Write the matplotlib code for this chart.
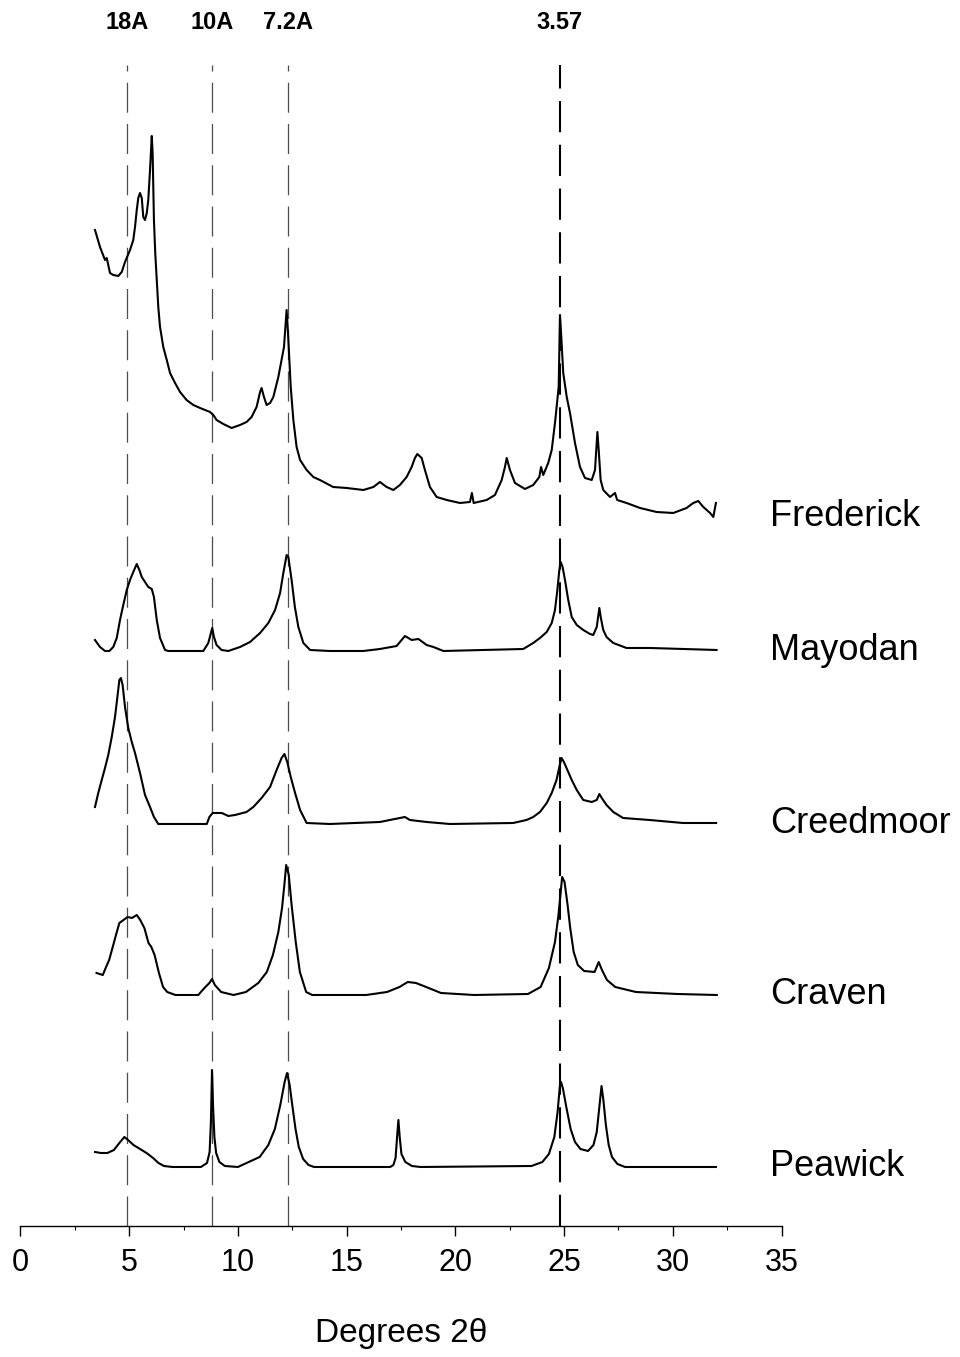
import matplotlib
matplotlib.use("Agg")
import matplotlib.pyplot as plt
import matplotlib.transforms as mtransforms
from matplotlib.ticker import MultipleLocator

plt.rcParams['font.family'] = ['Liberation Sans', 'DejaVu Sans']

# XRD traces, 2-theta (deg) and intensity above each trace's baseline (arb. units)
frederick_2t = [3.43, 3.66, 3.89, 3.97, 4.04, 4.12, 4.27, 4.50, 4.66, 4.81, 5.04, 5.19, 5.27,
                5.35, 5.42, 5.50, 5.58, 5.65, 5.73, 5.81, 5.88, 5.96, 6.04, 6.08, 6.14, 6.20,
                6.27, 6.34, 6.42, 6.57, 6.73, 6.88, 7.11, 7.34, 7.64, 7.95, 8.26, 8.72, 8.87,
                9.02, 9.33, 9.71, 10.10, 10.40, 10.63, 10.86, 11.02, 11.09, 11.20, 11.32,
                11.48, 11.63, 11.86, 12.01, 12.12, 12.24, 12.29, 12.35, 12.43, 12.55, 12.70,
                12.86, 13.16, 13.47, 13.77, 14.38, 15.00, 15.77, 16.23,
                16.53, 16.84, 17.15, 17.45, 17.76, 17.99, 18.14, 18.25, 18.45, 18.60, 18.83,
                19.14, 19.60, 20.21, 20.67, 20.76, 20.84, 21.44, 21.82, 22.13, 22.28, 22.36,
                22.51, 22.74, 23.20, 23.58, 23.86, 23.94, 24.04, 24.27, 24.43, 24.58, 24.69,
                24.75, 24.81, 24.87, 24.96, 25.12, 25.27, 25.50, 25.73, 25.96, 26.27, 26.42,
                26.53, 26.59, 26.68, 26.80, 27.11, 27.34, 27.44, 27.87, 28.49, 29.25, 30.02,
                30.63, 30.94, 31.17, 31.40, 31.71, 31.86, 31.98]
frederick_i = [287, 270, 257, 259, 252, 244, 242, 241, 245, 255, 267, 277, 290,
               307, 319, 324, 319, 300, 297, 304, 317, 347, 381, 364, 297, 264,
               237, 210, 190, 170, 157, 144, 134, 125, 117, 112, 109, 105, 102,
               97, 93, 89, 92, 95, 100, 110, 125, 129, 120, 112,
               114, 120, 140, 157, 170, 207, 190, 164, 130, 97, 70,
               57, 47, 40, 37, 30, 29, 27, 30,
               35, 30, 27, 32, 40, 50, 59, 63, 59, 47, 30,
               20, 17, 14, 15, 24, 14, 17, 22, 37, 50, 59,
               47, 34, 28, 32, 40, 50, 42, 54, 67, 94, 117,
               130, 202, 180, 144, 120, 104, 74, 50, 39, 37, 47,
               85, 67, 37, 27, 20, 24, 17, 14, 9, 5, 4,
               9, 14, 16, 10, 4, 0, 14]

mayodan_2t = [3.43, 3.66, 3.89, 4.09, 4.27, 4.43, 4.58, 4.73, 4.89, 5.04, 5.19, 5.35, 5.47,
              5.58, 5.73, 5.88, 6.04, 6.14, 6.27, 6.42, 6.65, 6.80, 8.41, 8.64, 8.76, 8.82,
              8.90, 9.02, 9.25, 9.56, 10.10, 10.56, 11.02, 11.40, 11.71, 11.94, 12.09, 12.24,
              12.32, 12.47, 12.62, 12.78, 13.01, 13.32, 14.23, 15.77, 16.53, 17.30, 17.68,
              17.99, 18.30, 18.68, 18.99, 19.45, 21.28, 23.12, 23.58, 23.89, 24.20, 24.43,
              24.58, 24.69, 24.78, 24.84, 24.93, 25.04, 25.19, 25.35, 25.58, 25.88, 26.19,
              26.34, 26.50, 26.62, 26.69, 26.80, 26.95, 27.26, 27.87, 28.95, 32.01]
mayodan_i = [11, 4, 0, 0, 4, 13, 31, 46, 61, 71, 79, 87, 81,
             74, 69, 64, 62, 54, 31, 13, 1, 0, 0, 8, 18, 23,
             14, 6, 1, 0, 4, 9, 18, 28, 41, 58, 78, 96,
             94, 71, 44, 24, 8, 1, 0, 0, 2, 5, 15,
             11, 12, 6, 4, 0, 1, 2, 8, 13, 19, 28,
             41, 61, 81, 89, 84, 71, 51, 34, 26, 21, 17,
             16, 24, 43, 33, 21, 14, 8, 3, 3, 1]

creedmoor_2t = [3.43, 3.58, 3.74, 3.89, 4.04, 4.20, 4.35, 4.46, 4.55, 4.62, 4.70, 4.81, 4.96,
                5.12, 5.27, 5.50, 5.73, 5.96, 6.14, 6.34, 7.34, 8.57, 8.69, 8.84, 9.26, 9.56,
                9.87, 10.40, 10.71, 11.09, 11.48, 11.78, 12.01, 12.14, 12.27, 12.43, 12.63,
                12.86, 13.16, 14.23, 16.53, 17.45, 17.68, 17.91, 18.68, 19.75, 22.66, 23.27,
                23.58, 23.89, 24.20, 24.43, 24.65, 24.78, 24.88, 24.99, 25.11, 25.35, 25.58,
                25.88, 26.27, 26.50, 26.62, 26.73, 26.95, 27.26, 27.71, 28.93, 30.46, 31.99]
creedmoor_i = [17, 31, 44, 56, 69, 87, 107, 127, 144, 146, 139, 117, 96,
               82, 71, 51, 29, 17, 7, 0, 0, 0, 7, 11, 11, 8,
               9, 12, 17, 26, 37, 54, 66, 70, 62, 47, 31,
               14, 1, 0, 2, 6, 7, 4, 2, 0, 1, 4,
               7, 12, 21, 31, 44, 57, 66, 62, 56, 44, 34,
               24, 22, 24, 30, 26, 19, 12, 6, 4, 1, 1]

craven_2t = [3.50, 3.79, 3.92, 4.08, 4.27, 4.42, 4.55, 4.74, 4.93, 5.13, 5.35, 5.51, 5.70,
             5.89, 6.02, 6.17, 6.37, 6.56, 6.75, 7.13, 8.18, 8.46, 8.69, 8.81, 8.94, 9.23,
             9.80, 10.37, 10.94, 11.33, 11.61, 11.86, 12.03, 12.15, 12.22, 12.34, 12.47,
             12.66, 12.85, 13.14, 13.42, 15.90, 16.86, 17.43, 17.81, 18.19, 18.77, 19.34,
             20.86, 23.34, 23.92, 24.30, 24.58, 24.74, 24.83, 24.91, 25.02, 25.16, 25.28,
             25.44, 25.63, 25.92, 26.40, 26.59, 26.74, 26.97, 27.35, 28.30, 30.21, 32.02]
craven_i = [22, 20, 27, 35, 50, 62, 72, 75, 78, 77, 80, 75, 67,
            52, 48, 40, 22, 8, 3, 0, 0, 7, 12, 16, 10, 3,
            0, 3, 12, 23, 40, 63, 87, 113, 130, 120, 90,
            53, 23, 3, 0, 0, 3, 8, 13, 12, 7, 2,
            0, 1, 8, 27, 53, 80, 100, 118, 113, 90, 67,
            43, 30, 24, 23, 33, 25, 15, 8, 3, 1, 0]

peawick_2t = [3.43, 3.70, 4.00, 4.30, 4.55, 4.78, 4.95, 5.20, 5.50, 5.80, 6.10, 6.35, 6.60,
              7.00, 8.30, 8.58, 8.70, 8.76, 8.81, 8.86, 8.92, 9.00, 9.15, 9.40, 10.00, 10.50,
              11.00, 11.40, 11.70, 11.95, 12.15, 12.26, 12.38, 12.50, 12.65, 12.80, 13.00,
              13.25, 13.50, 17.00, 17.15, 17.25, 17.32, 17.38, 17.44, 17.52, 17.70, 18.00,
              18.40, 23.50, 24.00, 24.30, 24.55, 24.70, 24.80, 24.86, 24.95, 25.10, 25.30,
              25.50, 25.75, 26.10, 26.35, 26.50, 26.62, 26.72, 26.80, 26.92, 27.05, 27.20,
              27.45, 27.80, 31.98]
peawick_i = [15, 14, 14, 17, 24, 30, 27, 22, 18, 14, 9, 4, 1,
             0, 0, 4, 15, 45, 97, 60, 30, 14, 5, 1, 0, 5,
             10, 22, 38, 62, 85, 94, 82, 62, 38, 20, 8,
             2, 0, 0, 2, 9, 30, 47, 30, 13, 5, 1,
             0, 1, 5, 13, 30, 55, 80, 85, 78, 60, 38,
             25, 18, 16, 22, 35, 60, 81, 68, 42, 22, 10,
             3, 0, 0]

samples = ['Frederick', 'Mayodan', 'Creedmoor', 'Craven', 'Peawick']
two_theta = [frederick_2t, mayodan_2t, creedmoor_2t, craven_2t, peawick_2t]
intensity = [frederick_i, mayodan_i, creedmoor_i, craven_i, peawick_i]
offsets = [709, 575, 402, 231, 59]

# reference d-spacings and their 2-theta positions
ref_labels = ['18A', '10A', '7.2A', '3.57']
ref_2t = [4.9, 8.8, 12.3, 24.8]

fig = plt.figure(figsize=(9.6, 13.57), dpi=100)
ax = fig.add_axes([0.02125, 0.09654, 0.79292, 0.85557])

for name, xs, ys, off in zip(samples, two_theta, intensity, offsets):
    ax.plot(xs, [v + off for v in ys], color='black', lw=1.5, solid_joinstyle='round')
    ax.text(34.45, off, name, fontsize=26, ha='left', va='center', clip_on=False)

trans = mtransforms.blended_transform_factory(ax.transData, ax.transAxes)
for lab, pos in zip(ref_labels, ref_2t):
    heavy = lab == '3.57'
    ax.axvline(pos, color='black' if heavy else '0.3', lw=1.5 if heavy else 0.9,
               linestyle=(0, (15, 6)) if heavy else (0, (24, 9)), zorder=0)
    ax.text(pos, 1.037, lab, transform=trans, fontsize=17, fontweight='bold',
            ha='center', va='center')

ax.set_xlim(0, 35)
ax.set_ylim(0, 1161)
ax.xaxis.set_major_locator(MultipleLocator(5))
ax.xaxis.set_minor_locator(MultipleLocator(2.5))
ax.tick_params(axis='x', which='major', direction='out', length=7, width=1, labelsize=22, pad=9)
ax.tick_params(axis='x', which='minor', direction='out', length=3, width=0.8)
ax.set_yticks([])
for side in ['left', 'right', 'top']:
    ax.spines[side].set_visible(False)
ax.spines['bottom'].set_linewidth(1)

ax.set_xlabel('Degrees 2θ', fontsize=24)
ax.xaxis.set_label_coords(0.5, -0.0922)
ax.xaxis.label.set_va('center')

fig.savefig('out.png', dpi=100)
